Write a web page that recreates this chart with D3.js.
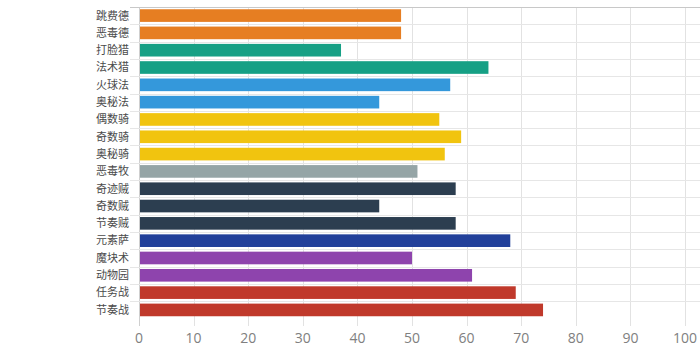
<!DOCTYPE html>
<html><head><meta charset="utf-8">
<script src="https://cdn.jsdelivr.net/npm/d3@7"></script>
<style>html,body{margin:0;padding:0;background:#fff;overflow:hidden}</style>
</head><body>
<svg id="c" width="700" height="350"></svg>
<script>
const categories = ["跳费德","恶毒德","打脸猎","法术猎","火球法","奥秘法","偶数骑","奇数骑","奥秘骑","恶毒牧","奇迹贼","奇数贼","节奏贼","元素萨","魔块术","动物园","任务战","节奏战"];
const values = [48,48,37,64,57,44,55,59,56,51,58,44,58,68,50,61,69,74];
const colors = ["#e67e22","#e67e22","#16a085","#16a085","#3498db","#3498db","#f1c40f","#f1c40f","#f1c40f","#95a5a6","#2c3e50","#2c3e50","#2c3e50","#22409a","#8e44ad","#8e44ad","#c0392b","#c0392b"];
const xTicks = [0,10,20,30,40,50,60,70,80,90,100];

(function(){
const svg = d3.select("#c");
const mLeft = 139, mRight = 685, mTop = 7, mBottom = 318.5;
const x = d3.scaleLinear().domain([0,100]).range([mLeft,mRight]);
const y = d3.scaleBand().domain(categories).range([mTop,mBottom]).paddingInner(0.27).paddingOuter(0.13);
const yb = d3.scaleBand().domain(categories).range([mTop,mBottom]);

// vertical grid
svg.append("g").selectAll("line").data(xTicks).join("line")
  .attr("x1",d=>Math.round(x(d))+0.5).attr("x2",d=>Math.round(x(d))+0.5).attr("y1",mTop).attr("y2",326)
  .attr("stroke",d=>d===0?"#cfcfcf":"#e2e2e2").attr("stroke-width",1);
// horizontal separators
svg.append("g").selectAll("line").data(categories.slice(1)).join("line")
  .attr("x1",130).attr("x2",700).attr("y1",d=>Math.round(yb(d))+0.5).attr("y2",d=>Math.round(yb(d))+0.5)
  .attr("stroke","#e6e6e6");
// top line
svg.append("line").attr("x1",130).attr("x2",700).attr("y1",mTop+0.5).attr("y2",mTop+0.5).attr("stroke","#c8c8c8");

// bars
svg.append("g").selectAll("rect").data(values).join("rect")
  .attr("x",x(0)+1).attr("y",(d,i)=>y(categories[i]))
  .attr("width",d=>x(d)-x(0)-1).attr("height",y.bandwidth())
  .attr("fill",(d,i)=>colors[i]);

// y labels
svg.append("g").selectAll("text").data(categories).join("text")
  .attr("x",129).attr("y",d=>yb(d)+yb.bandwidth()/2).attr("dy","0.35em")
  .attr("text-anchor","end").attr("font-family","'Noto Sans CJK SC', sans-serif")
  .attr("font-size",11).attr("fill","#4a4a4a").text(d=>d);

// x tick labels
svg.append("g").selectAll("text").data(xTicks).join("text")
  .attr("x",d=>x(d)).attr("y",343).attr("text-anchor","middle")
  .attr("font-family","'Open Sans', 'Noto Sans', sans-serif").attr("font-size",14).attr("fill","#808080").text(d=>d);
})();
</script>
</body></html>
